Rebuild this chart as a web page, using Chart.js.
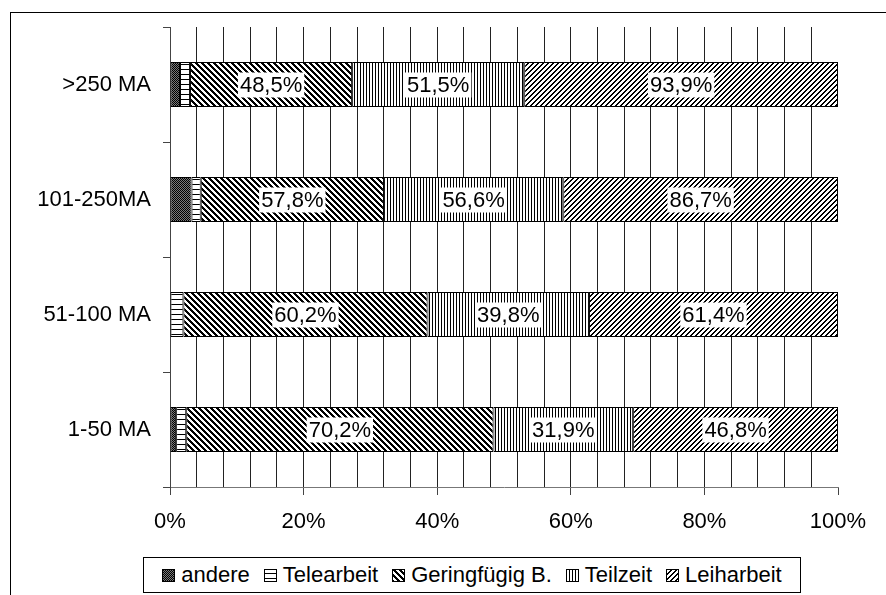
<!DOCTYPE html>
<html>
<head>
<meta charset="utf-8">
<script src="https://cdn.jsdelivr.net/npm/chart.js@4.4.1/dist/chart.umd.min.js"></script>
<style>
  html, body { margin:0; padding:0; background:#fff; overflow:hidden; }
  #wrap { position:relative; width:886px; height:595px; }
  #frame { position:absolute; left:10px; top:12px; width:1000px; height:800px; border-left:1px solid #000; border-top:1px solid #000; }
  #c { position:absolute; left:0; top:0; }
  #legend { position:absolute; left:143px; top:557px; width:656px; height:34px; border:1px solid #000; background:#fff;
    display:flex; align-items:center; justify-content:center; font-family:"Liberation Sans", Arial, sans-serif; font-size:22px; color:#000; white-space:nowrap; }
  .item { display:flex; align-items:center; margin:0 7px; }
  .item canvas { width:13px; height:13px; margin-right:6px; }
</style>
</head>
<body>
<div id="wrap">
  <div id="frame"></div>
  <canvas id="c" width="886" height="595"></canvas>
  <div id="legend"></div>
</div>
<script>
const categories = ['>250 MA', '101-250MA', '51-100 MA', '1-50 MA'];
const seriesNames = ['andere', 'Telearbeit', 'Geringfügig B.', 'Teilzeit', 'Leiharbeit'];
const andere       = [3.0, 6.8, 0.0, 1.4];
const telearbeit   = [3.0, 2.9, 3.3, 2.3];
const geringfuegig = [48.5, 57.8, 60.2, 70.2];
const teilzeit     = [51.5, 56.6, 39.8, 31.9];
const leiharbeit   = [93.9, 86.7, 61.4, 46.8];
const xTicks = [0, 20, 40, 60, 80, 100];

const raw = [andere, telearbeit, geringfuegig, teilzeit, leiharbeit];
const labelled = [false, false, true, true, true];
const totals = categories.map((_, i) => raw.reduce((s, arr) => s + arr[i], 0));

function makePattern(kind) {
  const c = document.createElement('canvas');
  let n = 6;
  if (kind === 'andere') n = 2;
  if (kind === 'tele') n = 5;
  if (kind === 'ger') n = 6;
  if (kind === 'teil') n = 3;
  if (kind === 'leih') n = 5;
  c.width = n; c.height = n;
  const g = c.getContext('2d');
  g.fillStyle = '#fff'; g.fillRect(0, 0, n, n);
  for (let x = 0; x < n; x++) for (let y = 0; y < n; y++) {
    let col = null;
    if (kind === 'andere') col = ((x + y) % 2 === 0) ? '#000' : '#7a7a7a';
    if (kind === 'tele') col = (y === 4) ? '#000' : null;
    if (kind === 'ger') col = (((x - y) % n + n) % n < 3) ? '#000' : null;
    if (kind === 'teil') col = (x === 0) ? '#000' : null;
    if (kind === 'leih') col = ((x + y) % n < 2) ? '#000' : null;
    if (col) { g.fillStyle = col; g.fillRect(x, y, 1, 1); }
  }
  return c;
}
const kinds = ['andere', 'tele', 'ger', 'teil', 'leih'];
const mainCtx = document.getElementById('c').getContext('2d');
const patterns = kinds.map(k => mainCtx.createPattern(makePattern(k), 'repeat'));

const datasets = raw.map((arr, k) => ({
  label: seriesNames[k],
  data: arr.map((v, i) => v / totals[i] * 100),
  rawValues: arr,
  backgroundColor: patterns[k],
  borderColor: '#000',
  borderWidth: 1,
  borderSkipped: false,
  barPercentage: 0.39,
  categoryPercentage: 1.0
}));

const labelPlugin = {
  id: 'segLabels',
  afterDatasetsDraw(chart) {
    const g = chart.ctx;
    g.save();
    g.font = '22px "Liberation Sans", Arial, sans-serif';
    g.textAlign = 'center';
    g.textBaseline = 'middle';
    chart.data.datasets.forEach((ds, k) => {
      if (!labelled[k]) return;
      chart.getDatasetMeta(k).data.forEach((el, i) => {
        const cx = (el.x + el.base) / 2;
        const cy = el.y;
        const t = ds.rawValues[i].toFixed(1).replace('.', ',') + '%';
        const w = g.measureText(t).width;
        g.fillStyle = '#fff';
        g.fillRect(cx - w / 2 - 2, cy - 12, w + 4, 25);
        g.fillStyle = '#000';
        g.fillText(t, cx, cy + 1);
      });
    });
    g.restore();
  }
};

Chart.defaults.font.family = '"Liberation Sans", Arial, sans-serif';
Chart.defaults.color = '#000';

new Chart(document.getElementById('c'), {
  type: 'bar',
  data: { labels: categories, datasets },
  options: {
    indexAxis: 'y',
    responsive: false,
    animation: false,
    devicePixelRatio: 1,
    layout: { padding: { left: 0, right: 48, top: 27, bottom: 0 } },
    plugins: { legend: { display: false }, tooltip: { enabled: false } },
    scales: {
      x: {
        stacked: true,
        min: 0, max: 100,
        afterFit(s) { s.height = 108; },
        afterBuildTicks(s) {
          const t = [];
          for (let v = 0; v <= 100; v += 4) t.push({ value: v });
          xTicks.forEach(v => { if (!t.find(o => o.value === v)) t.push({ value: v }); });
          t.sort((a, b) => a.value - b.value);
          s.ticks = t;
        },
        ticks: {
          autoSkip: false,
          maxRotation: 0,
          padding: 14,
          font: { size: 22 },
          callback: v => xTicks.includes(v) ? v + '%' : ''
        },
        grid: {
          color: c => (c.tick && (c.tick.value === 100 || c.tick.value === 0)) ? 'rgba(0,0,0,0)' : '#222',
          tickColor: c => (c.tick && xTicks.includes(c.tick.value)) ? '#444' : 'rgba(0,0,0,0)',
          tickLength: 8,
          lineWidth: 1
        },
        border: { display: true, color: '#777', width: 1 }
      },
      y: {
        stacked: true,
        afterFit(s) { s.width = 170; },
        ticks: { padding: 12, font: { size: 22 } },
        grid: { drawOnChartArea: false, offset: true, tickLength: 7, color: '#444' },
        border: { display: true, color: '#444', width: 1 }
      }
    }
  },
  plugins: [labelPlugin]
});

// legend (HTML, real text)
const leg = document.getElementById('legend');
seriesNames.forEach((name, k) => {
  const item = document.createElement('div');
  item.className = 'item';
  const sw = document.createElement('canvas');
  sw.width = 13; sw.height = 13;
  const g = sw.getContext('2d');
  g.fillStyle = g.createPattern(makePattern(kinds[k]), 'repeat');
  g.fillRect(0, 0, 13, 13);
  g.strokeStyle = '#000'; g.lineWidth = 1; g.strokeRect(0.5, 0.5, 12, 12);
  const sp = document.createElement('span');
  sp.textContent = name;
  item.appendChild(sw); item.appendChild(sp);
  leg.appendChild(item);
});
</script>
</body>
</html>
